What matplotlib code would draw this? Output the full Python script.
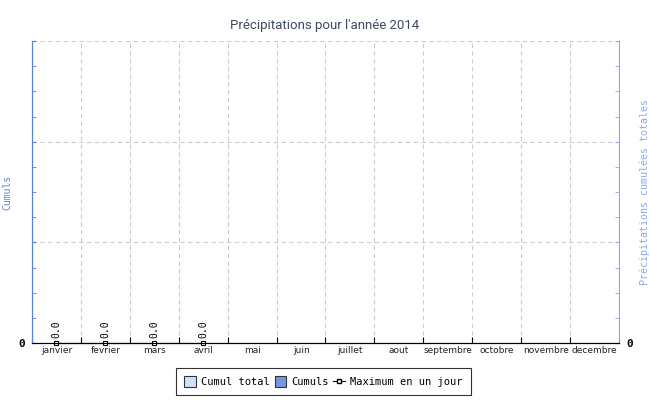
import matplotlib
matplotlib.use('Agg')
import matplotlib.pyplot as plt
import numpy as np
from matplotlib.patches import Patch
from matplotlib.lines import Line2D

# data
months = ['janvier', 'fevrier', 'mars', 'avril', 'mai', 'juin', 'juillet',
          'aout', 'septembre', 'octobre', 'novembre', 'decembre']
cumul_total = [0, 0, 0, 0, 0, 0, 0, 0, 0, 0, 0, 0]
cumuls = [0, 0, 0, 0, 0, 0, 0, 0, 0, 0, 0, 0]
max_jour = [0.0, 0.0, 0.0, 0.0]

blue = '#5a82d2'
light = '#88aaee'
mono = 'DejaVu Sans Mono'

fig = plt.figure(figsize=(6.5, 4), dpi=100)
ax = fig.add_axes([32/650, 1-343/400, 587/650, 302/400])
ax2 = ax.twinx()

x = np.arange(len(months))
ax2.bar(x, cumul_total, width=0.8, color='#cfe0fa', edgecolor='#333333', linewidth=0.6)
ax.bar(x, cumuls, width=0.5, color='#6f9ae0', edgecolor='#333333', linewidth=0.6)
xm = np.arange(len(max_jour))
ax.plot(xm, max_jour, color='black', linewidth=0.8, marker='s', markersize=3,
        markerfacecolor='white', markeredgecolor='black', markeredgewidth=0.8,
        clip_on=False, zorder=5)
for xi, v in zip(xm, max_jour):
    ax.annotate('%.1f' % v, (xi, v), xytext=(0, 3.5), textcoords='offset points',
                rotation=90, ha='center', va='bottom', fontsize=7, family=mono)

ax.set_xlim(-0.5, len(months) - 0.5)
ax.set_ylim(0, 3)
ax2.set_ylim(0, 3)

# grille aux limites des mois
ax.set_xticks(np.arange(len(months) + 1) - 0.5)
ax.set_xticklabels([])
ax.set_xticks(x, minor=True)
ax.set_xticklabels(months, minor=True, fontsize=6.5, color='#222222')
ax.tick_params(axis='x', which='major', direction='in', length=4, color='black')
ax.tick_params(axis='x', which='minor', length=0, pad=2.5)
ax.grid(True, axis='x', which='major', linestyle=(0, (4, 3)), color='#cccccc', linewidth=0.8)

for a, col in [(ax, blue), (ax2, light)]:
    a.set_yticks([0, 1, 2, 3])
    a.set_yticks(np.arange(0, 3, 0.25), minor=True)
    a.set_yticklabels(['0', '', '', ''], fontsize=8, fontweight='bold', family=mono)
    a.tick_params(axis='y', which='both', direction='in', color=col, length=3, pad=5)
ax.grid(True, axis='y', which='major', linestyle=(0, (4, 3)), color='#cccccc', linewidth=0.8)
ax.set_axisbelow(True)

for a in (ax, ax2):
    a.spines['top'].set_visible(False)
    a.spines['bottom'].set_color('black')
ax2.spines['left'].set_color(blue)
ax2.spines['right'].set_color(light)
ax.spines['left'].set_color(blue)
ax.spines['right'].set_visible(False)

fig.text(7/650, 1-192/400, 'Cumuls', rotation=90, ha='center', va='center',
         color=blue, fontsize=7, family=mono)
fig.text(645/650, 1-192/400, 'Précipitations cumulées totales', rotation=90,
         ha='center', va='center', color=light, fontsize=7.2, family=mono)

fig.text(0.5, 1-25/400, "Précipitations pour l'année 2014", ha='center', va='center',
         fontsize=9.5, color='#3c4a60', family='Roboto')

handles = [Patch(facecolor='#cfe0fa', edgecolor='#333333', linewidth=0.8),
           Patch(facecolor='#6f9ae0', edgecolor='#333333', linewidth=0.8),
           Line2D([0], [0], color='black', linewidth=0.8, marker='s', markersize=3,
                  markerfacecolor='white', markeredgecolor='black')]
leg = fig.legend(handles, ['Cumul total', 'Cumuls', 'Maximum en un jour'],
                 loc='center', bbox_to_anchor=(323.5/650, 1-381.5/400), ncol=3,
                 prop={'family': mono, 'size': 7.5},
                 frameon=True, fancybox=False, edgecolor='black',
                 handlelength=1.1, handleheight=1.2, handletextpad=0.5,
                 columnspacing=0.45, borderpad=0.8)
leg.get_frame().set_linewidth(0.8)

fig.savefig('out.png', dpi=100)
